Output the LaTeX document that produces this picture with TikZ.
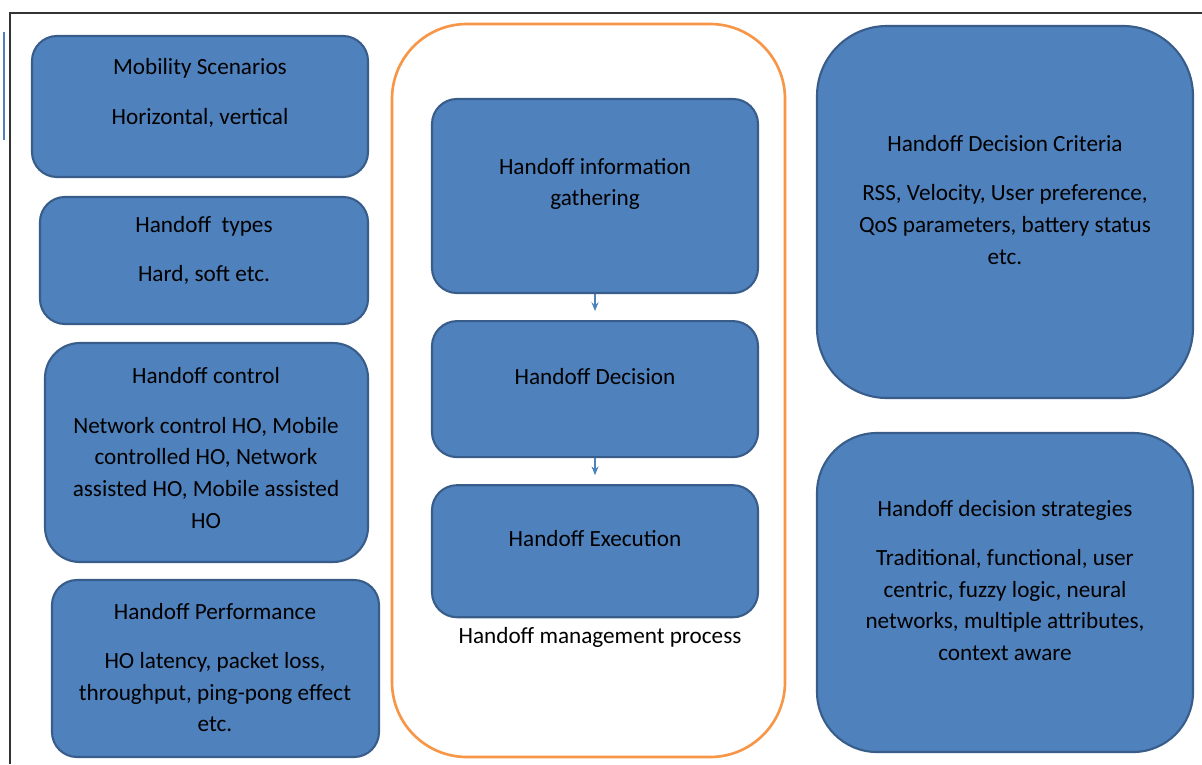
\documentclass[tikz,border=0pt]{standalone}
\usepackage{fontspec}
\setmainfont{Carlito}
\usepackage{tikz}
\usetikzlibrary{arrows.meta,positioning}
\definecolor{boxblue}{HTML}{4F81BD}
\definecolor{boxline}{HTML}{385D8A}
\definecolor{procorange}{HTML}{F79646}
\tikzstyle{box}=[draw=boxline,line width=1.2pt,fill=boxblue,rounded corners=0.5cm]
\tikzstyle{txt}=[align=center,text=black,font=\fontsize{13.2}{18}\selectfont]
\tikzstyle{flow}=[draw=boxblue,line width=0.6pt,-{Stealth[length=5pt,width=4pt]},shorten >=0.18cm]
\tikzset{boxsize/.style n args={2}{minimum width=#1*0.02cm,minimum height=#2*0.02cm}}

\begin{document}
\begin{tikzpicture}[x=0.02cm,y=-0.02cm,inner sep=0pt]
  \useasboundingbox[fill=white] (0,0) rectangle (1202,764);
  % page frame
  \coordinate (frametop) at (1202,13);
  \coordinate (framecorner) at (10,13);
  \coordinate (framebottom) at (10,764);
  \draw[black!80,line width=1pt] (frametop) -- (framecorner) -- (framebottom);
  \coordinate (cuta) at (4,32);
  \coordinate (cutb) at (4,140);
  \draw[boxblue,line width=1.2pt] (cuta) -- (cutb);

  % left column
  \node[box,boxsize={336}{141}] (mob) at (200,106.5) {};
  \node[txt] (mobtxt) at (200,93) {Mobility Scenarios\\[10pt]Horizontal, vertical};
  \node[box,boxsize={328}{127}] (typ) at (204,260.5) {};
  \node[txt] (typtxt) at (204,250.5) {Handoff\ \ types\\[10pt]Hard, soft etc.};
  \node[box,boxsize={323}{219},rounded corners=0.7cm] (ctl) at (206.5,452.5) {};
  \node[txt] (ctltxt) at (206,448) {Handoff control\\[10pt]Network control HO, Mobile\\controlled HO, Network\\assisted HO, Mobile assisted\\HO};
  \node[box,boxsize={327}{177}] (perf) at (215.5,668.5) {};
  \node[txt] (perftxt) at (215,667.5) {Handoff Performance\\[10pt]HO latency, packet loss,\\throughput, ping-pong effect\\etc.};

  % handoff management process
  \node[draw=procorange,line width=1.5pt,rounded corners=1.5cm,boxsize={393}{733}] (proc) at (588.5,390.5) {};
  \node[box,boxsize={326}{194}] (gath) at (595,196) {};
  \node[txt] (gathtxt) at (595,184) {Handoff information\\gathering};
  \node[box,boxsize={326}{136}] (dec) [below=0.52cm of gath] {};
  \node[txt] (dectxt) at (595,377) {Handoff Decision};
  \node[box,boxsize={326}{132}] (exe) [below=0.52cm of dec] {};
  \node[txt] (exetxt) at (595,539) {Handoff Execution};
  \node[txt] (proclbl) at (600,637.5) {Handoff management process};
  \draw[flow] (gath) -- (dec);
  \draw[flow] (dec) -- (exe);

  % right column
  \node[box,boxsize={376}{372},rounded corners=1.4cm] (crit) at (1005,212) {};
  \node[txt] (crittxt) at (1005,200) {Handoff Decision Criteria\\[10pt]RSS, Velocity, User preference,\\QoS parameters, battery status\\etc.};
  \node[box,boxsize={376}{319},rounded corners=1.2cm] (strat) at (1005,592.5) {};
  \node[txt] (strattxt) at (1005,580.5) {Handoff decision strategies\\[10pt]Traditional, functional, user\\centric, fuzzy logic, neural\\networks, multiple attributes,\\context aware};
\end{tikzpicture}
\end{document}
